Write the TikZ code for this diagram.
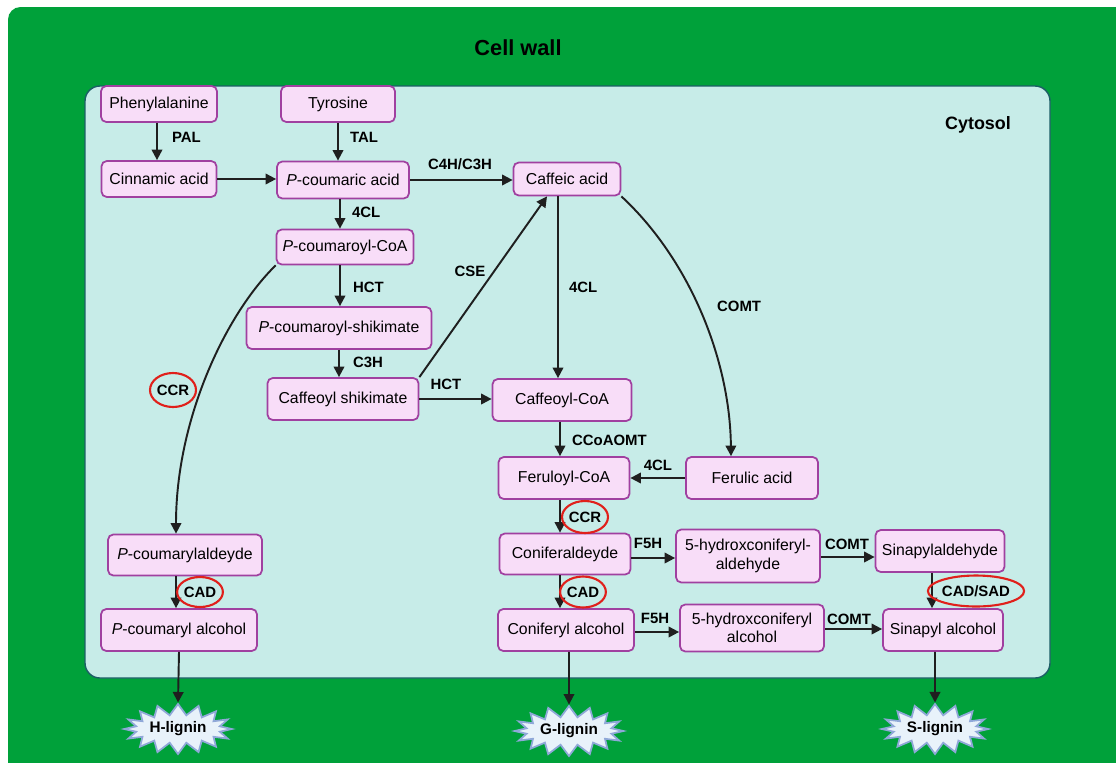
\documentclass[tikz,border=0pt]{standalone}
\usepackage{fontspec}
\setmainfont{Liberation Sans}
\usetikzlibrary{arrows.meta,shapes.geometric,shapes.symbols}

\definecolor{wallgreen}{HTML}{00A13A}
\definecolor{cytofill}{HTML}{C7ECE8}
\definecolor{cytoline}{HTML}{1C5E66}
\definecolor{boxfill}{HTML}{F8DDF8}
\definecolor{boxline}{HTML}{A040A0}
\definecolor{starfill}{HTML}{E8F2FA}
\definecolor{starline}{HTML}{8FA8D8}
\definecolor{ovalred}{HTML}{E0201B}

\tikzset{
  met/.style={draw=boxline, fill=boxfill, line width=1pt, rounded corners=3pt,
    minimum height=0.84cm, inner sep=2pt, align=center,
    font=\fontsize{9}{10.5}\selectfont},
  enz/.style={font=\bfseries\fontsize{8.5}{10}\selectfont, inner sep=1pt},
  redenz/.style={enz, ellipse, draw=ovalred, line width=1.2pt, inner sep=0pt},
  rxn/.style={line width=1.1pt, draw=black!88, -{Triangle[length=6pt,width=6pt]}},
  lignin/.style={starburst, starburst points=16, random starburst=0,
    starburst point height=0.22cm, draw=starline, fill=starfill, line width=1pt,
    inner sep=1pt, font=\bfseries\fontsize{8.7}{10}\selectfont}
}

\begin{document}
\begin{tikzpicture}[x=0.02cm, y=-0.02cm]
    \useasboundingbox (0,0) rectangle (1116,762);
    \fill[white] (0,0) rectangle (1116,762);
    \fill[wallgreen, rounded corners=0.25cm] (8,7) rectangle (1140,790);
    \draw[cytoline, fill=cytofill, line width=0.8pt, rounded corners=0.3cm] (85,86) rectangle (1050,678);
    \node[font=\bfseries\fontsize{12.4}{14}\selectfont] (wall) at (518,48) {Cell wall};
    \node[font=\bfseries\fontsize{10.2}{12}\selectfont] (cyto) at (978,125) {Cytosol};

    \node[met, minimum width=2.32cm, minimum height=0.72cm] (phe) at (159,104) {Phenylalanine};
    \node[met, minimum width=2.28cm, minimum height=0.72cm] (tyr) at (338,104) {Tyrosine};
    \node[met, minimum width=2.30cm, minimum height=0.72cm] (cin) at (159,179) {Cinnamic acid};
    \node[met, minimum width=2.64cm, minimum height=0.74cm] (pca) at (343,180) {\textit{P}-coumaric acid};
    \node[met, minimum width=2.14cm, minimum height=0.66cm] (caf) at (567,179) {Caffeic acid};
    \node[met, minimum width=2.74cm, minimum height=0.70cm] (pcoa) at (345,247) {\textit{P}-coumaroyl-CoA};
    \node[met, minimum width=3.70cm] (pcsh) at (339,328) {\textit{P}-coumaroyl-shikimate};
    \node[met, minimum width=3.02cm] (cfsh) at (343,399) {Caffeoyl shikimate};
    \node[met, minimum width=2.78cm] (cfcoa) at (562,400) {Caffeoyl-CoA};
    \node[met, minimum width=2.62cm] (fercoa) at (564,478) {Feruloyl-CoA};
    \node[met, minimum width=2.64cm] (fer) at (752,478) {Ferulic acid};
    \node[met, minimum width=2.62cm, minimum height=0.82cm] (conald) at (565,554) {Coniferaldeyde};
    \node[met, minimum width=2.88cm, minimum height=1.06cm] (hcald) at (748,556) {5-hydroxconiferyl-\\aldehyde};
    \node[met, minimum width=2.58cm] (sinald) at (940,551) {Sinapylaldehyde};
    \node[met, minimum width=2.72cm] (conalc) at (566,630) {Coniferyl alcohol};
    \node[met, minimum width=2.88cm, minimum height=0.94cm] (hcalc) at (752,628) {5-hydroxconiferyl\\alcohol};
    \node[met, minimum width=2.40cm] (sinalc) at (943,630) {Sinapyl alcohol};
    \node[met, minimum width=3.08cm, minimum height=0.82cm] (pcald) at (185,555) {\textit{P}-coumarylaldeyde};
    \node[met, minimum width=3.12cm] (pcalc) at (179,630) {\textit{P}-coumaryl alcohol};

    \node[lignin, minimum width=2.1cm, minimum height=1.0cm] (hlig) at (178,729) {H-lignin};
    \node[lignin, minimum width=2.1cm, minimum height=1.0cm] (glig) at (569,731) {G-lignin};
    \node[lignin, minimum width=2.1cm, minimum height=1.0cm] (slig) at (935,729) {S-lignin};

    \draw[rxn] ([xshift=-0.04cm]phe.south) -- ([xshift=-0.04cm]phe.south |- cin.north);
    \draw[rxn] (tyr.south) -- (tyr.south |- pca.north);
    \draw[rxn] (cin.east) -- (cin.east -| pca.west);
    \draw[rxn] (pca.east) -- (pca.east -| caf.west);
    \draw[rxn] ([xshift=-0.06cm]pca.south) -- ([xshift=-0.06cm]pca.south |- pcoa.north);
    \draw[rxn] ([xshift=-0.1cm]pcoa.south) -- ([xshift=-0.1cm]pcoa.south |- pcsh.north);
    \draw[rxn] (pcsh.south) -- (pcsh.south |- cfsh.north);
    \draw[rxn] (cfsh.east) -- (cfsh.east -| cfcoa.west);
    \draw[rxn] (cfsh.north east) -- ([xshift=-0.4cm]caf.south);
    \draw[rxn] ([xshift=-0.08cm]cfcoa.north |- caf.south) -- ([xshift=-0.08cm]cfcoa.north);
    \draw[rxn] (caf.south east) .. controls (690,260) and (730,360) .. ([xshift=-0.42cm]fer.north);
    \draw[rxn] (pcoa.south west) .. controls (225,315) and (176,420) .. ([xshift=-0.18cm]pcald.north);
    \draw[rxn] ([xshift=-0.04cm]cfcoa.south) -- ([xshift=-0.04cm]cfcoa.south |- fercoa.north);
    \draw[rxn] (fer.west) -- (fercoa.east);
    \draw[rxn] ([xshift=-0.08cm]fercoa.south) -- ([xshift=-0.08cm]fercoa.south |- conald.north);
    \draw[rxn] ([yshift=-0.08cm]conald.east) -- ([yshift=-0.08cm]conald.east -| hcald.west);
    \draw[rxn] ([yshift=-0.02cm]hcald.east) -- ([yshift=-0.02cm]hcald.east -| sinald.west);
    \draw[rxn] ([xshift=-0.1cm]conald.south) -- ([xshift=-0.1cm]conald.south |- conalc.north);
    \draw[rxn] ([yshift=-0.04cm]conalc.east) -- ([yshift=-0.04cm]conalc.east -| hcalc.west);
    \draw[rxn] ([yshift=-0.02cm]hcalc.east) -- ([yshift=-0.02cm]hcalc.east -| sinalc.west);
    \draw[rxn] ([xshift=-0.16cm]sinald.south) -- ([xshift=-0.16cm]sinald.south |- sinalc.north);
    \draw[rxn] ([xshift=-0.18cm]pcald.south) -- ([xshift=-0.18cm]pcald.south |- pcalc.north);
    \draw[rxn] (pcalc.south) -- (hlig.north);
    \draw[rxn] ([xshift=0.06cm]conalc.south) -- (glig.north);
    \draw[rxn] ([xshift=-0.16cm]sinalc.south) -- (slig.north);

    \node[enz, anchor=west] (pal) at (170,137) {PAL};
    \node[enz, anchor=west] (tal) at (348,137) {TAL};
    \node[enz] (c4h) at (460,164) {C4H/C3H};
    \node[enz, anchor=west] (fclA) at (350,212) {4CL};
    \node[enz, anchor=west] (hctA) at (351,287) {HCT};
    \node[enz, anchor=west] (c3h) at (351,362) {C3H};
    \node[enz] (hctB) at (446,384) {HCT};
    \node[enz] (cse) at (470,271) {CSE};
    \node[enz, anchor=west] (fclB) at (567,287) {4CL};
    \node[enz, anchor=west] (comtA) at (715,306) {COMT};
    \node[enz, anchor=west] (ccoaomt) at (570,440) {CCoAOMT};
    \node[enz] (fclC) at (658,465) {4CL};
    \node[enz] (fhA) at (648,543) {F5H};
    \node[enz] (comtB) at (847,544) {COMT};
    \node[enz] (fhB) at (655,618) {F5H};
    \node[enz] (comtC) at (849,619) {COMT};

    \node[redenz, minimum width=0.92cm, minimum height=0.68cm] (ccrA) at (173,390) {CCR};
    \node[redenz, minimum width=0.84cm, minimum height=0.60cm] (cadA) at (200,592) {CAD};
    \node[redenz, minimum width=0.92cm, minimum height=0.64cm] (ccrB) at (585,517) {CCR};
    \node[redenz, minimum width=0.84cm, minimum height=0.62cm] (cadB) at (583,592) {CAD};
    \node[redenz, minimum width=1.56cm, minimum height=0.62cm] (cadsad) at (976,591) {CAD/SAD};
\end{tikzpicture}
\end{document}
